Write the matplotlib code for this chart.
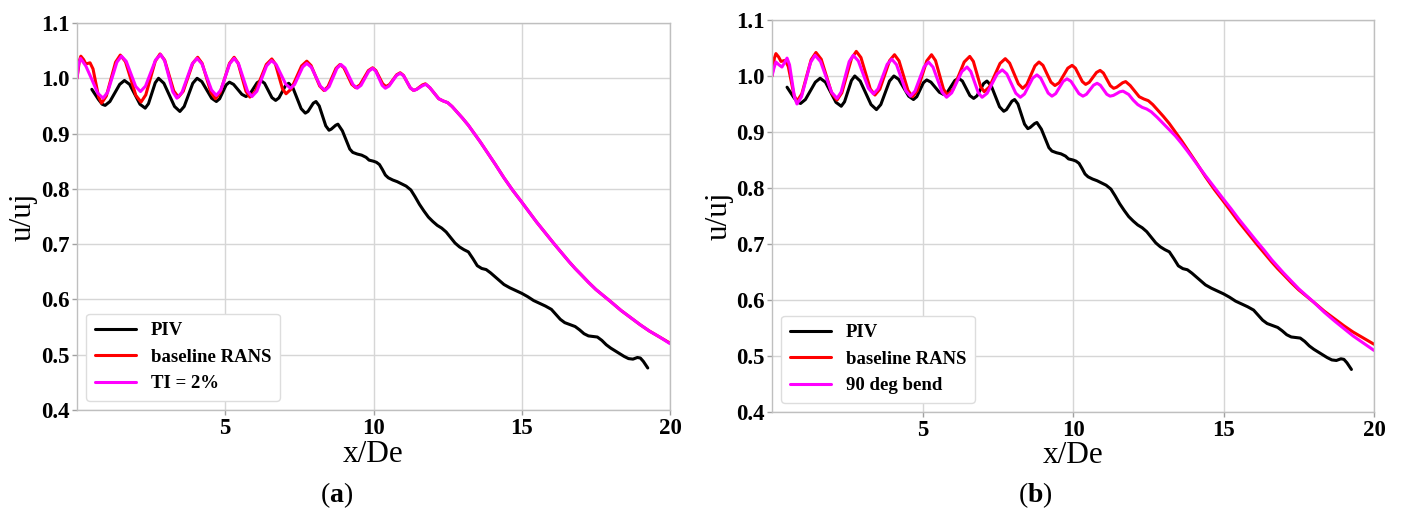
import matplotlib
matplotlib.use("Agg")
import matplotlib.pyplot as plt
from matplotlib.ticker import FormatStrFormatter

plt.rcParams['font.family'] = ['Liberation Serif', 'DejaVu Serif']
plt.rcParams['mathtext.fontset'] = 'custom'
plt.rcParams['mathtext.rm'] = 'Liberation Serif'
plt.rcParams['mathtext.bf'] = 'Liberation Serif:bold'

# ---------------- data ----------------
piv_x = [0.5, 0.72, 0.85, 0.95, 1.11, 1.275, 1.44, 1.6, 1.775, 1.95, 2.125, 2.3, 2.41,
         2.525, 2.64, 2.75, 2.93, 3.11, 3.29, 3.47, 3.615, 3.76, 3.905, 4.05, 4.21, 4.375,
         4.54, 4.7, 4.81, 4.92, 5.03, 5.14, 5.28, 5.42, 5.56, 5.7, 5.825, 5.95, 6.075,
         6.2, 6.325, 6.45, 6.575, 6.7, 6.81, 6.92, 7.03, 7.14, 7.28, 7.42, 7.56, 7.7,
         7.79, 7.88, 7.97, 8.06, 8.17, 8.28, 8.39, 8.5, 8.575, 8.65, 8.725, 8.8, 8.95,
         9.1, 9.2, 9.3, 9.45, 9.6, 9.75, 9.85, 10.0, 10.1, 10.2, 10.3, 10.4, 10.5, 10.65,
         10.8, 10.95, 11.1, 11.26, 11.4, 11.55, 11.7, 11.85, 12.0, 12.15, 12.3, 12.45,
         12.6, 12.75, 12.9, 13.05, 13.2, 13.35, 13.5, 13.65, 13.8, 13.95, 14.1, 14.25,
         14.4, 14.6, 14.8, 15.0, 15.2, 15.4, 15.6, 15.8, 16.0, 16.15, 16.3, 16.45, 16.6,
         16.8, 16.95, 17.1, 17.25, 17.4, 17.55, 17.7, 17.85, 18.0, 18.15, 18.3, 18.45,
         18.6, 18.75, 18.9, 19.0, 19.1, 19.2, 19.25]
piv_y = [0.980, 0.962, 0.953, 0.951, 0.958, 0.9735, 0.989, 0.996, 0.989, 0.971, 0.953,
         0.946, 0.954, 0.973, 0.992, 1.000, 0.991, 0.970, 0.949, 0.940, 0.949, 0.970,
         0.991, 1.000, 0.994, 0.979, 0.964, 0.958, 0.963, 0.9755, 0.988, 0.993, 0.989,
         0.980, 0.971, 0.967, 0.971, 0.9815, 0.992, 0.996, 0.991, 0.978, 0.965, 0.960,
         0.9645, 0.9755, 0.9865, 0.991, 0.983, 0.964, 0.945, 0.937, 0.940, 0.9475, 0.955,
         0.958, 0.950, 0.932, 0.914, 0.906, 0.908, 0.9115, 0.915, 0.917, 0.905, 0.885,
         0.872, 0.866, 0.863, 0.861, 0.857, 0.852, 0.850, 0.848, 0.844, 0.835, 0.825,
         0.820, 0.816, 0.813, 0.809, 0.805, 0.798, 0.786, 0.772, 0.760, 0.749, 0.741,
         0.734, 0.729, 0.722, 0.712, 0.702, 0.695, 0.690, 0.686, 0.674, 0.661, 0.656,
         0.654, 0.648, 0.641, 0.634, 0.627, 0.621, 0.616, 0.611, 0.605, 0.598, 0.593,
         0.588, 0.582, 0.573, 0.564, 0.558, 0.555, 0.551, 0.545, 0.538, 0.534, 0.533,
         0.532, 0.526, 0.518, 0.512, 0.507, 0.502, 0.497, 0.493, 0.492, 0.495, 0.494,
         0.488, 0.480, 0.476]

rans_x = [0.0, 0.04, 0.08, 0.13, 0.22, 0.3, 0.37, 0.44, 0.54, 0.635, 0.73, 0.83, 0.99,
          1.145, 1.30, 1.46, 1.635, 1.81, 1.985, 2.16, 2.32, 2.48, 2.64, 2.8, 2.955, 3.11,
          3.265, 3.42, 3.5825, 3.745, 3.9075, 4.07, 4.22, 4.37, 4.52, 4.67, 4.8275, 4.985,
          5.1425, 5.3, 5.4325, 5.565, 5.6975, 5.83, 6.015, 6.2, 6.385, 6.57, 6.69, 6.81,
          6.93, 7.05, 7.225, 7.4, 7.575, 7.75, 7.895, 8.04, 8.185, 8.33, 8.465, 8.6,
          8.735, 8.87, 9.0025, 9.135, 9.2675, 9.4, 9.5425, 9.685, 9.8275, 9.97, 10.08,
          10.195, 10.31, 10.42, 10.54, 10.66, 10.78, 10.9, 11.01, 11.125, 11.24, 11.35,
          11.45, 11.55, 11.65, 11.75, 11.9, 12.05, 12.2, 12.35, 12.5, 12.65, 12.8, 13.0,
          13.2, 13.4, 13.6, 13.8, 14.1, 14.4, 14.7, 15.0, 15.25, 15.5, 15.8, 16.1, 16.35,
          16.6, 16.8, 17.0, 17.25, 17.5, 17.75, 18.0, 18.35, 18.7, 19.0, 19.3, 19.65, 20.0]
rans_y = [1.000, 1.015, 1.032, 1.040, 1.034, 1.026, 1.027, 1.028, 1.017, 0.9915, 0.966,
          0.955, 0.968, 0.9985, 1.029, 1.042, 1.030, 0.9995, 0.969, 0.957, 0.970, 1.0005,
          1.031, 1.044, 1.033, 1.005, 0.977, 0.966, 0.9765, 1.002, 1.0275, 1.038, 1.027,
          1.0005, 0.974, 0.963, 0.974, 1.0005, 1.027, 1.038, 1.0275, 1.002, 0.9765, 0.966,
          0.976, 1.0005, 1.025, 1.035, 1.026, 1.0035, 0.981, 0.972, 0.9806, 1.0015, 1.0224,
          1.031, 1.023, 1.0045, 0.986, 0.978, 0.985, 1.0015, 1.018, 1.025, 1.019, 1.004,
          0.989, 0.983, 0.988, 1.001, 1.014, 1.019, 1.014, 1.002, 0.990, 0.985, 0.9887,
          0.9975, 1.0063, 1.010, 1.0053, 0.994, 0.9827, 0.978, 0.980, 0.984, 0.988, 0.990,
          0.983, 0.973, 0.963, 0.959, 0.956, 0.949, 0.940, 0.928, 0.915, 0.900, 0.885,
          0.869, 0.845, 0.820, 0.797, 0.776, 0.758, 0.740, 0.720, 0.700, 0.684, 0.668,
          0.656, 0.645, 0.631, 0.618, 0.607, 0.596, 0.580, 0.566, 0.554, 0.543, 0.532,
          0.521]

ti_x = [0.0, 0.05, 0.12, 0.3, 0.5, 0.7, 0.88, 1.035, 1.19, 1.345, 1.5, 1.66, 1.82, 1.98,
        2.14, 2.31, 2.48, 2.65, 2.82, 2.9575, 3.095, 3.2325, 3.37, 3.54, 3.71, 3.88, 4.05,
        4.2125, 4.375, 4.5375, 4.7, 4.85, 5.0, 5.15, 5.3, 5.45, 5.6, 5.75, 5.9, 6.065,
        6.23, 6.395, 6.56, 6.72, 6.88, 7.04, 7.2, 7.3375, 7.475, 7.6125, 7.75, 7.905,
        8.06, 8.215, 8.37, 8.5025, 8.635, 8.7675, 8.9, 9.0375, 9.175, 9.3125, 9.45, 9.58,
        9.71, 9.84, 9.97, 10.0775, 10.185, 10.2925, 10.4, 10.525, 10.65, 10.775, 10.9,
        11.015, 11.13, 11.245, 11.36, 11.46, 11.56, 11.67, 11.77, 11.9, 12.05, 12.2,
        12.35, 12.5, 12.65, 12.8, 13.0, 13.2, 13.4, 13.6, 13.8, 14.1, 14.4, 14.7, 15.0,
        15.25, 15.5, 15.8, 16.1, 16.35, 16.6, 16.8, 17.0, 17.25, 17.5, 17.75, 18.0, 18.35,
        18.7, 19.0, 19.3, 19.65, 20.0]
ti_y = [1.000, 1.024, 1.036, 1.022, 0.998, 0.973, 0.964, 0.975, 1.002, 1.029, 1.040,
        1.0307, 1.008, 0.9853, 0.976, 0.9858, 1.0095, 1.0332, 1.043, 1.0315, 1.0035,
        0.9755, 0.964, 0.9745, 1.000, 1.0255, 1.036, 1.0262, 1.0025, 0.9788, 0.969,
        0.9788, 1.0025, 1.0262, 1.036, 1.026, 1.0015, 0.977, 0.967, 0.9765, 0.9995,
        1.0225, 1.032, 1.0247, 1.007, 0.9893, 0.982, 0.9886, 1.0045, 1.0204, 1.027,
        1.0198, 1.0025, 0.9852, 0.978, 0.9849, 1.0015, 1.0181, 1.025, 1.0187, 1.0035,
        0.9883, 0.982, 0.9873, 1.000, 1.0127, 1.018, 1.0127, 1.000, 0.9873, 0.982, 0.986,
        0.9955, 1.005, 1.009, 1.0045, 0.9935, 0.9825, 0.978, 0.980, 0.9835, 0.987, 0.989,
        0.983, 0.973, 0.963, 0.959, 0.956, 0.949, 0.940, 0.928, 0.915, 0.900, 0.885,
        0.869, 0.845, 0.820, 0.797, 0.776, 0.758, 0.740, 0.720, 0.700, 0.684, 0.668,
        0.656, 0.645, 0.631, 0.618, 0.607, 0.596, 0.580, 0.566, 0.554, 0.543, 0.532,
        0.520]

bend_x = [0.0, 0.06, 0.13, 0.23, 0.33, 0.42, 0.5, 0.5825, 0.665, 0.7475, 0.83, 0.98,
          1.13, 1.28, 1.43, 1.6125, 1.795, 1.9775, 2.16, 2.295, 2.43, 2.565, 2.7, 2.8675,
          3.035, 3.2025, 3.37, 3.5225, 3.675, 3.8275, 3.98, 4.135, 4.29, 4.445, 4.6, 4.75,
          4.9, 5.05, 5.2, 5.35, 5.5, 5.65, 5.8, 5.97, 6.14, 6.31, 6.48, 6.605, 6.73, 6.855,
          6.98, 7.1475, 7.315, 7.4825, 7.65, 7.8, 7.95, 8.1, 8.25, 8.3875, 8.525, 8.6625,
          8.8, 8.925, 9.05, 9.175, 9.3, 9.425, 9.55, 9.675, 9.8, 9.9325, 10.065, 10.1975,
          10.33, 10.4475, 10.565, 10.6825, 10.8, 10.9075, 11.015, 11.1225, 11.23, 11.34,
          11.45, 11.55, 11.66, 11.85, 12.0, 12.15, 12.3, 12.45, 12.6, 12.8, 13.0, 13.2,
          13.4, 13.6, 13.8, 14.1, 14.4, 14.7, 15.0, 15.25, 15.5, 15.8, 16.1, 16.35, 16.6,
          16.8, 17.0, 17.25, 17.5, 17.75, 18.0, 18.35, 18.7, 19.0, 19.3, 19.65, 20.0]
bend_y = [1.000, 1.013, 1.025, 1.020, 1.016, 1.024, 1.032, 1.020, 0.991, 0.962, 0.950,
          0.963, 0.9935, 1.024, 1.037, 1.0258, 0.9985, 0.9712, 0.960, 0.9712, 0.9985,
          1.0258, 1.037, 1.0269, 1.0025, 0.9781, 0.968, 0.977, 0.999, 1.021, 1.030, 1.0204,
          0.997, 0.9736, 0.964, 0.9729, 0.9945, 1.0161, 1.025, 1.0158, 0.9935, 0.9712,
          0.962, 0.9699, 0.989, 1.0081, 1.016, 1.0081, 0.989, 0.9699, 0.962, 0.9692,
          0.9865, 1.0038, 1.011, 1.0038, 0.9865, 0.9692, 0.962, 0.9678, 0.982, 0.9962,
          1.002, 0.9965, 0.983, 0.9695, 0.964, 0.9685, 0.9795, 0.9905, 0.995, 0.9905,
          0.9795, 0.9685, 0.964, 0.9674, 0.9755, 0.9836, 0.987, 0.9836, 0.9755, 0.9674,
          0.964, 0.9653, 0.9685, 0.9717, 0.973, 0.967, 0.957, 0.949, 0.944, 0.941, 0.936,
          0.926, 0.915, 0.904, 0.893, 0.880, 0.866, 0.844, 0.822, 0.801, 0.780, 0.763,
          0.745, 0.725, 0.705, 0.689, 0.672, 0.660, 0.648, 0.634, 0.620, 0.608, 0.596,
          0.578, 0.562, 0.549, 0.536, 0.523, 0.510]

x_ticks = [5, 10, 15, 20]
y_ticks = [0.4, 0.5, 0.6, 0.7, 0.8, 0.9, 1.0, 1.1]
legend_a = ['PIV', 'baseline RANS', 'TI = 2%']
legend_b = ['PIV', 'baseline RANS', '90 deg bend']

# ---------------- figure ----------------
fig = plt.figure(figsize=(14.02, 5.14), dpi=100)
W, H = 1402, 514

def make_axes(l, r, t, b):
    return fig.add_axes([l / W, 1 - b / H, (r - l) / W, (b - t) / H])

axA = make_axes(77, 670, 23, 410)
axB = make_axes(772, 1374, 20, 412)

grid_c = '#d6d6d6'
panels = [
    (axA, [(piv_x, piv_y, 'black'), (rans_x, rans_y, '#ff0000'), (ti_x, ti_y, '#ff00ff')],
     legend_a, (-0.091, 0.5), (0.5, -0.116)),
    (axB, [(piv_x, piv_y, 'black'), (rans_x, rans_y, '#ff0000'), (bend_x, bend_y, '#ff00ff')],
     legend_b, (-0.088, 0.5), (0.5, -0.110)),
]
for ax, series, labels, ylc, xlc in panels:
    for (xs, ys, c), lab in zip(series, labels):
        ax.plot(xs, ys, color=c, lw=2.2, label=lab, solid_capstyle='round',
                solid_joinstyle='round')
    ax.set_xlim(0, 20)
    ax.set_ylim(0.4, 1.1)
    ax.set_xticks(x_ticks)
    ax.set_yticks(y_ticks)
    ax.yaxis.set_major_formatter(FormatStrFormatter('%.1f'))
    ax.grid(True, color=grid_c, lw=1.0)
    ax.set_axisbelow(True)
    for s in ax.spines.values():
        s.set_color('#bfbfbf')
        s.set_linewidth(1.0)
    ax.tick_params(axis='both', length=3.5, width=1, color='#a0a0a0', pad=2)
    for lab in ax.get_xticklabels() + ax.get_yticklabels():
        lab.set_fontweight('bold')
        lab.set_fontsize(16.5)
    ax.set_xlabel('x/De', fontsize=22.5, va='center')
    ax.set_ylabel('u/uj', fontsize=22.5, va='center')
    ax.yaxis.set_label_coords(*ylc)
    ax.xaxis.set_label_coords(*xlc)
    leg = ax.legend(loc='lower left', prop={'family': 'Liberation Serif', 'weight': 'bold', 'size': 13.5},
                    handlelength=2.2, handletextpad=0.8, labelspacing=0.5,
                    borderaxespad=0.5, borderpad=0.45, fancybox=True, framealpha=1.0)
    leg.get_frame().set_edgecolor('#dddddd')
    leg.get_frame().set_linewidth(1.0)

fig.text(337 / W, 1 - 495 / H, r'$\mathrm{(}\mathbf{a}\mathrm{)}$', ha='center', va='center', fontsize=20)
fig.text(1035 / W, 1 - 495 / H, r'$\mathrm{(}\mathbf{b}\mathrm{)}$', ha='center', va='center', fontsize=20)

fig.savefig('out.png', dpi=100)
